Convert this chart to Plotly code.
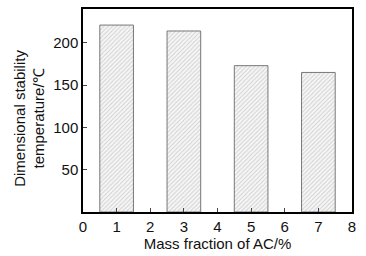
import plotly.graph_objects as go

mass_fraction = [1, 3, 5, 7]
temperature = [221, 214, 173, 165]
x_ticks = [0, 1, 2, 3, 4, 5, 6, 7, 8]
y_ticks = [50, 100, 150, 200]

fig = go.Figure()
fig.add_trace(go.Bar(
    x=mass_fraction, y=temperature, width=1,
    marker=dict(color="white", line=dict(color="#777777", width=1),
                pattern=dict(shape="/", fgcolor="#a8a8a8", bgcolor="#f6f6f6", size=3, solidity=0.3)),
    showlegend=False,
))

font = dict(family="Liberation Sans, Arial", size=15, color="#111111")
fig.update_layout(
    width=366, height=256,
    margin=dict(l=83, r=14, t=7, b=44),
    paper_bgcolor="white", plot_bgcolor="white",
    font=font,
    xaxis=dict(range=[0, 8], tickvals=x_ticks, ticks="inside", ticklen=4,
               showline=True, linecolor="black", linewidth=1.5, mirror=True,
               showgrid=False, zeroline=False,
               title=dict(text="Mass fraction of AC/%", standoff=1, font=font)),
    yaxis=dict(range=[0, 240], tickvals=y_ticks, ticks="inside", ticklen=4,
               showline=True, linecolor="black", linewidth=1.5, mirror=True,
               showgrid=False, zeroline=False),
    annotations=[dict(text="Dimensional stability<br>temperature/℃", x=-0.2, y=0.46,
                      xref="paper", yref="paper", textangle=-90, showarrow=False,
                      font=font, xanchor="center", yanchor="middle")],
)
fig.write_html("out.html", config={"displayModeBar": False},
               post_script="document.body.style.margin='0';")
